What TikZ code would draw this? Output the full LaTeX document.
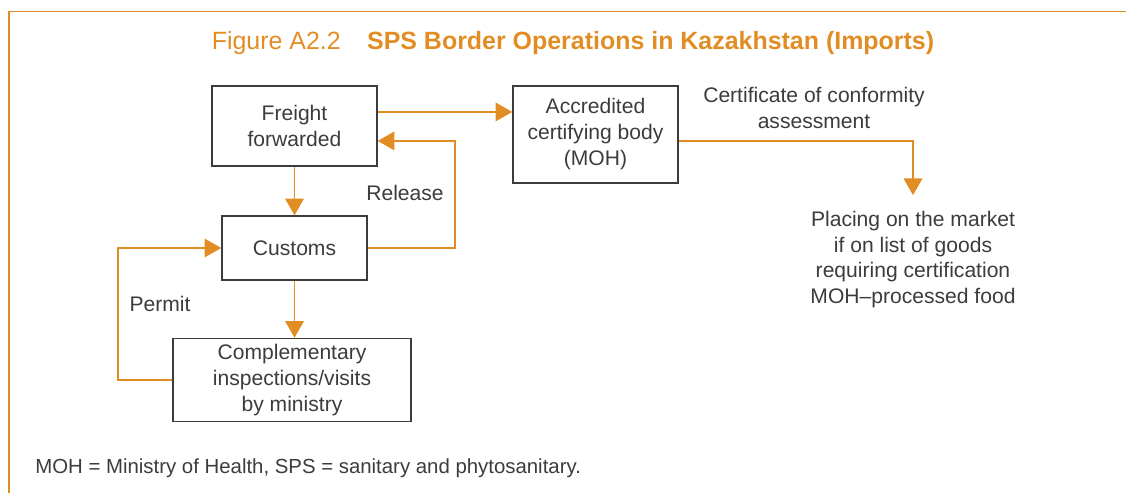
\documentclass[tikz,border=0pt]{standalone}
\usepackage{fontspec}
\setmainfont{Liberation Sans}
\usepackage{tikz}
\usetikzlibrary{arrows.meta}

\definecolor{wbOrange}{RGB}{226,141,36}
\definecolor{wbText}{RGB}{60,60,60}

\tikzset{
    box/.style={draw=wbText, line width=0.8pt, text=wbText, align=center,
        font=\fontsize{12}{14.8}\selectfont, inner sep=0pt},
    lbl/.style={text=wbText, align=center, font=\fontsize{12}{14.6}\selectfont},
    flow/.style={draw=wbOrange, line width=1.1pt,
        -{Triangle[length=9.5pt, width=10.5pt]}},
    link/.style={draw=wbOrange, line width=1.1pt},
}

\begin{document}
\begin{tikzpicture}[x=0.02cm, y=-0.02cm]
    \useasboundingbox (0,0) rectangle (1126,493);
    % frame
    \draw[wbOrange, line width=0.6pt] (9,493) -- (9,11.5);
    \draw[wbOrange, line width=1pt] (8.7,11.5) -- (1126,11.5);
    % title
    \node[anchor=base, text=wbOrange, font=\fontsize{14.2}{16}\selectfont, inner sep=0pt]
        (title) at (573,50)
        {Figure A2.2\hspace{15pt}\textbf{SPS Border Operations in Kazakhstan (Imports)}};

    % boxes
    \node[box, minimum width=3.3cm, minimum height=1.6cm]
        (freight) at (294.5,126) {Freight\\forwarded};
    \node[box, minimum width=2.9cm, minimum height=1.28cm]
        (customs) at (294.5,248) {Customs};
    \node[box, minimum width=4.76cm, minimum height=1.66cm]
        (compl) at (292,380) {Complementary\\inspections/visits\\by ministry};
    \node[box, minimum width=3.3cm, minimum height=1.94cm]
        (cert) at (595.5,134.5) {Accredited\\certifying body\\(MOH)};
    \node[lbl, anchor=north, inner sep=0pt] (market) at (913,211)
        {Placing on the market\\if on list of goods\\requiring certification\\MOH--processed food};

    % labels
    \node[lbl] (release) at (405,193) {Release};
    \node[lbl] (permit) at (160,304) {Permit};
    \node[lbl] (conf) at (814,108) {Certificate of conformity\\assessment};

    % connectors
    \coordinate (fout) at ([yshift=8pt]freight.east);
    \coordinate (fin) at ([yshift=-8.5pt]freight.east);
    \coordinate (cout) at ([yshift=-3.7pt]cert.east);
    \draw[flow] (fout) -- (fout -| cert.west);
    \draw[flow] (freight) -- (customs);
    \draw[flow] (customs.south) -- (customs.south |- compl.north);
    \draw[flow] (customs.east) -- ++(87,0) |- (fin);
    \draw[flow] (compl.west) -- ++(-54,0) |- (customs.west);
    \draw[flow, shorten >=9pt] (cout) -| (market.north);

    % note
    \node[anchor=base west, text=wbText, font=\fontsize{11.6}{14}\selectfont, inner sep=0pt]
        (note) at (35,473) {MOH = Ministry of Health, SPS = sanitary and phytosanitary.};
\end{tikzpicture}
\end{document}
